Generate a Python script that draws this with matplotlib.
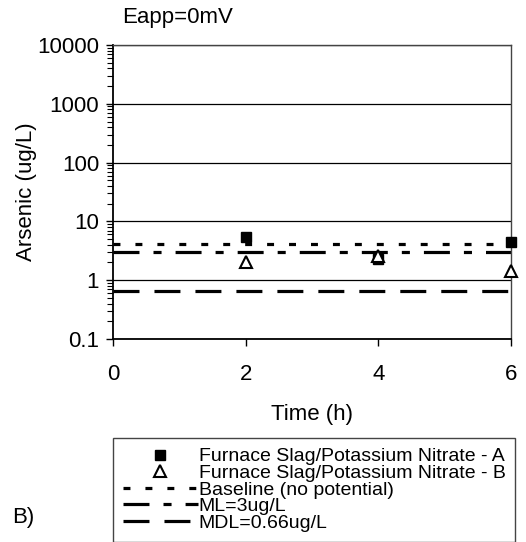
import matplotlib
matplotlib.use("Agg")
import matplotlib.pyplot as plt
import numpy as np

plt.rcParams['font.family'] = ['Liberation Sans', 'DejaVu Sans']
plt.rcParams['lines.scale_dashes'] = False

# Sampling times (h) and measured arsenic concentrations (ug/L)
time_h = [2, 4, 6]
slag_nitrate_a = [5.4, 2.3, 4.4]
slag_nitrate_b = [2.0, 2.6, 1.42]

# Reference levels (ug/L)
baseline = 4.2
ml = 3.0
mdl = 0.66
line_span = [0, 6]

x_ticks = [0, 2, 4, 6]
y_ticks = [0.1, 1, 10, 100, 1000, 10000]
y_ticklabels = ['0.1', '1', '10', '100', '1000', '10000']

W, H = 526, 542
fig = plt.figure(figsize=(W / 100, H / 100), dpi=100)
ax_l, ax_r, ax_t, ax_b = 113, 511, 45, 339
ax = fig.add_axes([ax_l / W, 1 - ax_b / H, (ax_r - ax_l) / W, (ax_b - ax_t) / H])

lw = 2.3
ax.plot(line_span, [baseline] * 2, color='black', lw=lw, dash_capstyle='butt',
        linestyle=(0, (5.0, 10.8)), label='Baseline (no potential)')
ax.plot(line_span, [ml] * 2, color='black', lw=lw, dash_capstyle='butt',
        linestyle=(0, (18.7, 10.1, 5.8, 10.1)), label='ML=3ug/L')
ax.plot(line_span, [mdl] * 2, color='black', lw=lw, dash_capstyle='butt',
        linestyle=(0, (18.7, 10.8)), label='MDL=0.66ug/L')

ax.plot(time_h, slag_nitrate_a, linestyle='none', marker='s', ms=7.5,
        mfc='black', mec='black', clip_on=False, zorder=5,
        label='Furnace Slag/Potassium Nitrate - A')
ax.plot(time_h, slag_nitrate_b, linestyle='none', marker='^', ms=8,
        mfc='white', mec='black', mew=1.5, clip_on=False, zorder=6,
        label='Furnace Slag/Potassium Nitrate - B')

ax.set_yscale('log')
ax.set_ylim(0.1, 10000)
ax.set_xlim(0, 6)
ax.set_xticks(x_ticks)
ax.set_xticklabels([str(v) for v in x_ticks])
ax.set_yticks(y_ticks)
ax.set_yticklabels(y_ticklabels)
ax.yaxis.set_minor_locator(matplotlib.ticker.LogLocator(base=10, subs=np.arange(2, 10)))
ax.yaxis.set_minor_formatter(matplotlib.ticker.NullFormatter())

ax.grid(axis='y', which='major', color='black', lw=0.9)
ax.set_axisbelow(True)

ax.tick_params(axis='y', which='major', direction='out', length=5, width=1, labelsize=16, pad=5)
ax.tick_params(axis='y', which='minor', direction='out', length=4, width=0.8)
ax.tick_params(axis='x', which='major', direction='out', length=5, width=1, labelsize=16, pad=13)

for side in ['left', 'bottom']:
    ax.spines[side].set_color('black')
    ax.spines[side].set_linewidth(1.3)
for side in ['top', 'right']:
    ax.spines[side].set_color('#444444')
    ax.spines[side].set_linewidth(1.0)

aw, ah = ax_r - ax_l, ax_b - ax_t
ax.set_xlabel('Time (h)', fontsize=16)
ax.set_ylabel('Arsenic (ug/L)', fontsize=16)
ax.yaxis.set_label_coords(-(ax_l - 37) / aw, (ax_b - 192) / ah)
ax.xaxis.set_label_coords(0.5, -(404 - ax_b) / ah)

fig.text(122 / W, 1 - 17 / H, 'Eapp=0mV', fontsize=16, ha='left', va='center')
fig.text(12 / W, 1 - 518 / H, 'B)', fontsize=16, ha='left', va='center')

handles, labels = ax.get_legend_handles_labels()
order = [3, 4, 0, 1, 2]
leg = fig.legend([handles[i] for i in order], [labels[i] for i in order],
                 loc='upper left', bbox_to_anchor=(113 / W, 1 - 438 / H),
                 borderaxespad=0, fontsize=14, handlelength=3.85,
                 handletextpad=0.05, labelspacing=-0.05, borderpad=0.5,
                 frameon=True, fancybox=False, edgecolor='#444444',
                 framealpha=1)
leg.get_frame().set_linewidth(1.0)

fig.savefig('out.png', dpi=100)
